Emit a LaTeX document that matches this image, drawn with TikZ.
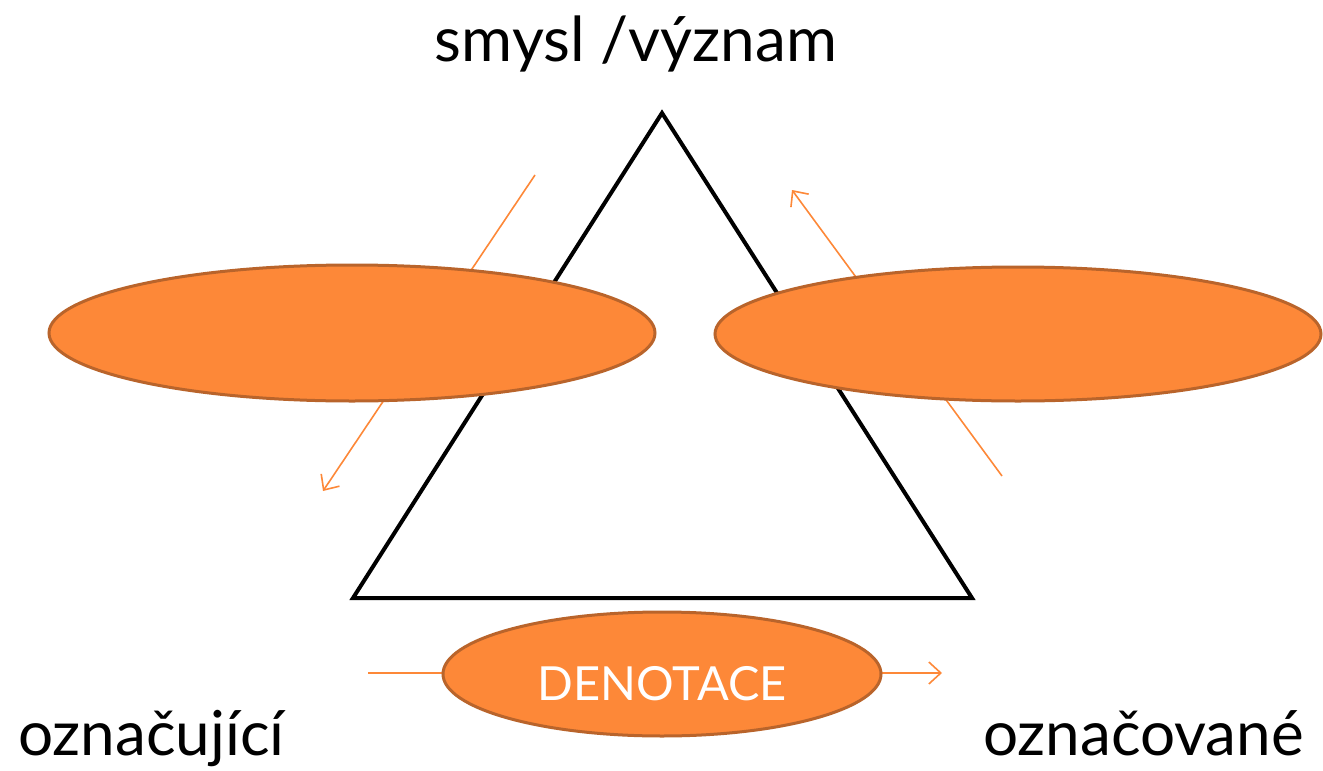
\documentclass[tikz,border=0pt]{standalone}
\usepackage{fontspec}
\setmainfont{Lato}
\usetikzlibrary{shapes.geometric,arrows.meta}
\definecolor{orfill}{HTML}{FD8838}
\definecolor{ordraw}{HTML}{B9642B}
\definecolor{orline}{HTML}{FD8838}
\tikzset{
  oval/.style={ellipse, fill=orfill, draw=ordraw, line width=3pt, inner sep=0pt},
  orarrow/.style={draw=orline, line width=1.6pt, -{Straight Barb[length=12pt,width=22pt,line width=1.6pt]}},
  lbl/.style={font=\fontsize{62}{70}\selectfont, text=black, inner sep=0pt},
}
\begin{document}
\begin{tikzpicture}[x=1pt,y=-1pt]
\useasboundingbox (0,0) rectangle (1323,771);
\coordinate (top) at (662,113);
\coordinate (bl) at (353,598);
\coordinate (br) at (972,598);
\draw[line width=4pt, line join=miter] (top) -- (bl) -- (br) -- cycle;
\coordinate (l1) at (535,175);
\coordinate (l2) at (323,491);
\coordinate (r1) at (1002,476);
\coordinate (r2) at (792,190);
\coordinate (h1) at (368,673);
\coordinate (h2) at (942,673);
\draw[orarrow] (l1) -- (l2);
\draw[orarrow] (r1) -- (r2);
\draw[orarrow] (h1) -- (h2);
\node[oval, minimum width=606pt, minimum height=136pt] (eleft) at (352,333) {};
\node[oval, minimum width=606pt, minimum height=134pt] (eright) at (1018,334) {};
\node[oval, minimum width=438pt, minimum height=124pt] (den) at (662,674) {};
\node[text=white, font=\fontsize{47}{54}\selectfont, inner sep=0pt] (dentext) at (662,684) {DENOTACE};
\node[lbl, anchor=base] (smysl) at (636,61) {smysl /význam};
\node[lbl, anchor=base west] (ozn1) at (18,755) {označující};
\node[lbl, anchor=base east] (ozn2) at (1304,755) {označované};
\end{tikzpicture}
\end{document}
